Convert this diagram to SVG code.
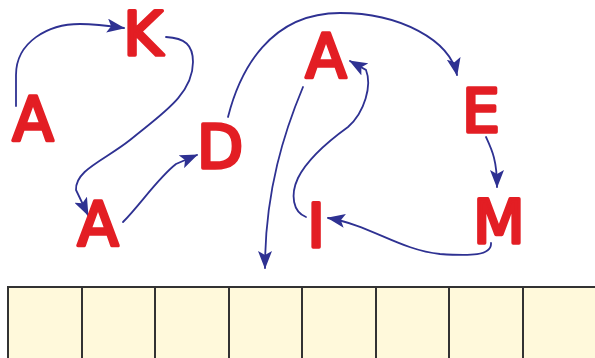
<svg xmlns="http://www.w3.org/2000/svg" width="595" height="358" viewBox="0 0 595 358">
<style>
.l{font-family:"DejaVu Sans","Liberation Sans",sans-serif;font-weight:normal;font-size:60px;fill:#e31e24;stroke:#e31e24;stroke-width:3.5;stroke-linejoin:round;stroke-linecap:round;text-anchor:middle}
.c{fill:none;stroke:#2e3192;stroke-width:1.8;stroke-linecap:round}
.b{fill:#fff9db;stroke:#333;stroke-width:2}
</style>
<defs>
<marker id="ah" markerUnits="userSpaceOnUse" markerWidth="18" markerHeight="14" viewBox="0 0 18 14" refX="17" refY="7" orient="auto">
<path d="M0,0 L18,7 L0,14 L4,7 Z" fill="#2e3192"/>
</marker>
</defs>
<g id="boxes">
<rect class="b" x="8" y="287" width="74" height="80"/>
<rect class="b" x="82" y="287" width="73" height="80"/>
<rect class="b" x="155" y="287" width="74" height="80"/>
<rect class="b" x="229" y="287" width="73" height="80"/>
<rect class="b" x="302" y="287" width="74" height="80"/>
<rect class="b" x="376" y="287" width="73" height="80"/>
<rect class="b" x="449" y="287" width="74" height="80"/>
<rect class="b" x="523" y="287" width="74" height="80"/>
</g>
<g id="connectors">
<path class="c" marker-end="url(#ah)" d="M16,106 L16,75 C16,42 48,24 80,24 C96,24 110,26 124,28"/>
<path class="c" marker-end="url(#ah)" d="M166,37 C185,38 193,45 193,62 C193,95 160,115 130,140 C105,160 75,170 76,190 L88,215"/>
<path class="c" marker-end="url(#ah)" d="M123,222 C140,205 158,178 176,164 L197,155"/>
<path class="c" marker-end="url(#ah)" d="M228,117 C240,70 270,13 340,13 C400,13 450,40 457,75"/>
<path class="c" marker-end="url(#ah)" d="M303,87 C285,130 265,190 265,268"/>
<path class="c" marker-end="url(#ah)" d="M486,137 C492,150 497,160 497,187"/>
<path class="c" marker-end="url(#ah)" d="M491,243 C492,256 470,256 440,254 C400,250 370,225 328,218"/>
<path class="c" marker-end="url(#ah)" d="M306,217 C293,212 290,195 298,178 C308,158 330,140 348,127 C365,112 372,85 366,70 L350,61"/>
</g>
<g id="n-A1"><text class="l" x="33" y="140">A</text></g>
<g id="n-K"><text class="l" x="143" y="55">K</text></g>
<g id="n-A2"><text class="l" x="98" y="245">A</text></g>
<g id="n-D"><text class="l" x="220" y="168">D</text></g>
<g id="n-A3"><text class="l" x="326" y="77">A</text></g>
<g id="n-E"><text class="l" x="481" y="132">E</text></g>
<g id="n-M"><text class="l" x="499" y="243">M</text></g>
<g id="n-I"><text class="l" x="316" y="247">I</text></g>
</svg>
